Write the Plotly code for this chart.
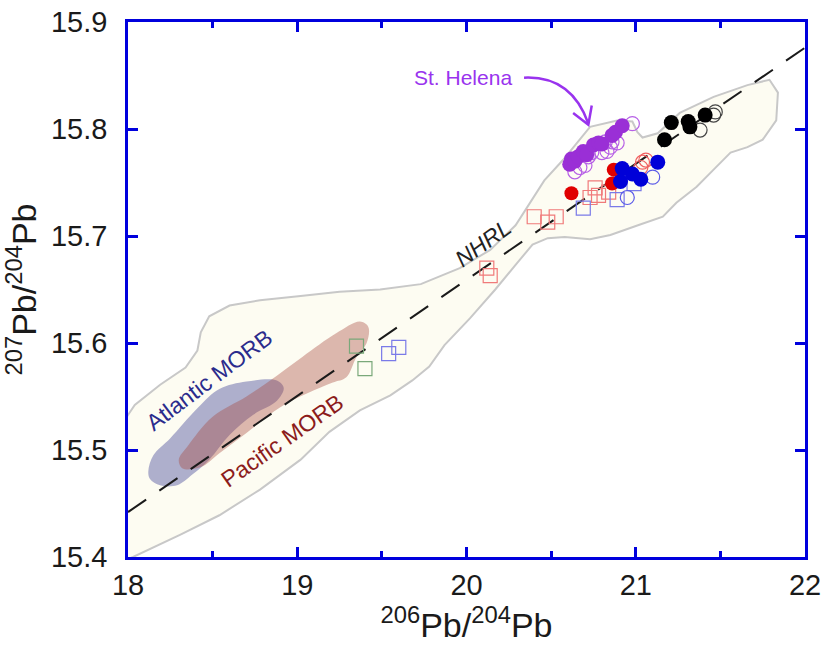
import plotly.graph_objects as go

# ---------------- data ----------------
# St. Helena (purple)
sh_fill_x = [20.62, 20.61, 20.64, 20.66, 20.69, 20.71, 20.75, 20.78, 20.80, 20.86, 20.88, 20.92]
sh_fill_y = [15.772, 15.767, 15.770, 15.774, 15.779, 15.776, 15.785, 15.787, 15.786, 15.794, 15.797, 15.803]
sh_open_x = [20.98, 20.82, 20.85, 20.83, 20.89, 20.80, 20.74, 20.67, 20.64, 20.70, 20.86, 20.72]
sh_open_y = [15.805, 15.788, 15.783, 15.779, 15.787, 15.778, 15.778, 15.764, 15.760, 15.766, 15.788, 15.774]

red_fill_x = [20.62, 20.86, 20.87]
red_fill_y = [15.740, 15.749, 15.762]
red_open_x = [21.04, 21.06, 21.03]
red_open_y = [15.769, 15.771, 15.764]
red_sq_x = [20.76, 20.73, 20.84, 20.78, 20.40, 20.48, 20.53, 20.12, 20.14]
red_sq_y = [15.745, 15.736, 15.741, 15.738, 15.718, 15.713, 15.718, 15.670, 15.663]

blue_fill_x = [20.92, 20.91, 20.98, 21.03, 21.13]
blue_fill_y = [15.763, 15.751, 15.758, 15.753, 15.769]
blue_open_x = [21.10, 20.95]
blue_open_y = [15.755, 15.736]
blue_sq_x = [20.99, 20.89, 20.69, 19.54, 19.60]
blue_sq_y = [15.749, 15.734, 15.726, 15.590, 15.596]

black_fill_x = [21.21, 21.17, 21.31, 21.32, 21.41]
black_fill_y = [15.806, 15.790, 15.807, 15.802, 15.813]
black_open_x = [21.38, 21.46, 21.47]
black_open_y = [15.799, 15.813, 15.816]

green_sq_x = [19.35, 19.40]
green_sq_y = [15.597, 15.576]

# Northern Hemisphere Reference Line end points
nhrl_x = [18.0, 22.0]
nhrl_y = [15.442, 15.876]

# OIB envelope (cream field)
env_x = [17.90, 17.98, 18.04, 18.19, 18.34, 18.41, 18.43, 18.48, 18.60, 18.78, 19.02, 19.25, 19.49, 19.73,
         19.96, 20.14, 20.29, 20.39, 20.46, 20.57, 20.73, 20.89, 20.98, 21.01, 21.04, 21.13, 21.26, 21.46,
         21.66, 21.79, 21.84, 21.83, 21.75, 21.66, 21.56, 21.46, 21.36, 21.24, 21.16, 21.03, 20.85, 20.73,
         20.58, 20.48, 20.39, 20.29, 20.17, 20.02, 19.87, 19.78, 19.68, 19.55, 19.37, 19.19, 19.02, 18.78,
         18.54, 18.31, 18.13, 18.03, 17.95, 17.90]
env_y = [15.528, 15.528, 15.542, 15.561, 15.577, 15.593, 15.610, 15.625, 15.635, 15.640, 15.644, 15.648,
         15.650, 15.655, 15.670, 15.687, 15.710, 15.734, 15.752, 15.771, 15.802, 15.808, 15.807, 15.797,
         15.792, 15.796, 15.815, 15.830, 15.841, 15.846, 15.834, 15.808, 15.790, 15.783, 15.778, 15.762,
         15.746, 15.731, 15.718, 15.711, 15.701, 15.697, 15.699, 15.698, 15.692, 15.673, 15.650, 15.623,
         15.598, 15.578, 15.565, 15.551, 15.537, 15.517, 15.491, 15.463, 15.439, 15.421, 15.407, 15.400,
         15.395, 15.395]

# Atlantic MORB field
atl_x = [18.12, 18.15, 18.25, 18.41, 18.54, 18.70, 18.88, 18.92, 18.88, 18.74, 18.60, 18.48, 18.38,
         18.29, 18.19, 18.13, 18.12]
atl_y = [15.480, 15.495, 15.511, 15.539, 15.557, 15.564, 15.565, 15.558, 15.546, 15.533, 15.514, 15.491,
         15.477, 15.467, 15.467, 15.473, 15.480]

# Pacific MORB field
pac_x = [18.30, 18.35, 18.50, 18.70, 18.84, 19.03, 19.23, 19.37, 19.42, 19.41, 19.35, 19.29, 19.21,
         19.06, 18.90, 18.70, 18.54, 18.43, 18.32, 18.30]
pac_y = [15.491, 15.503, 15.531, 15.550, 15.565, 15.587, 15.609, 15.620, 15.615, 15.600, 15.587, 15.568,
         15.563, 15.553, 15.540, 15.516, 15.497, 15.484, 15.483, 15.491]

# St. Helena arrow (start, control, tip) and head (left arm end, tip, right arm end)
arrow_x = [20.34, 20.62, 20.72]
arrow_y = [15.848, 15.850, 15.805]
head_x = [20.63, 20.72, 20.74]
head_y = [15.815, 15.804, 15.822]

x_ticks = [18, 19, 20, 21, 22]
y_ticks = [15.4, 15.5, 15.6, 15.7, 15.8, 15.9]

# ---------------- figure ----------------
fig = go.Figure()

fig.add_trace(go.Scatter(x=env_x, y=env_y, mode="lines", fill="toself",
                         fillcolor="#fdfcf2", line=dict(color="#c8c8c8", width=2),
                         hoverinfo="skip", showlegend=False))
fig.add_trace(go.Scatter(x=atl_x, y=atl_y, mode="lines", fill="toself",
                         fillcolor="rgba(95,98,165,0.5)", line=dict(width=0, shape="spline"),
                         hoverinfo="skip", showlegend=False))
fig.add_trace(go.Scatter(x=pac_x, y=pac_y, mode="lines", fill="toself",
                         fillcolor="rgba(165,70,60,0.38)", line=dict(width=0, shape="spline"),
                         hoverinfo="skip", showlegend=False))

fig.add_trace(go.Scatter(x=nhrl_x, y=nhrl_y, mode="lines",
                         line=dict(color="#1a1a1a", width=2, dash="22px,16px"),
                         hoverinfo="skip", showlegend=False))

def pts(x, y, symbol, color, size=14, lw=1.2, fill=None):
    m = dict(symbol=symbol, size=size, color=fill if fill else color,
             line=dict(color=color, width=lw))
    fig.add_trace(go.Scatter(x=x, y=y, mode="markers", marker=m, showlegend=False))

pts(red_sq_x, red_sq_y, "square-open", "#f07a7a", size=14)
pts(blue_sq_x, blue_sq_y, "square-open", "#7a7ae8", size=14)
pts(green_sq_x, green_sq_y, "square-open", "#7aa87a", size=14)
pts(sh_open_x, sh_open_y, "circle-open", "#b760e6", size=14)
pts(sh_fill_x, sh_fill_y, "circle", "#9a2fd6", size=15, lw=0)
pts(red_open_x, red_open_y, "circle-open", "#f06060", size=14)
pts(red_fill_x, red_fill_y, "circle", "#e00000", size=14, lw=0)
pts(blue_open_x, blue_open_y, "circle-open", "#5a5ae8", size=14)
pts(blue_fill_x, blue_fill_y, "circle", "#0000d8", size=15, lw=0)
pts(black_open_x, black_open_y, "circle-open", "#444444", size=14)
pts(black_fill_x, black_fill_y, "circle", "#000000", size=15, lw=0)

# curved arrow for St. Helena
fig.add_shape(type="path", xref="x", yref="y",
              path=f"M {arrow_x[0]},{arrow_y[0]} Q {arrow_x[1]},{arrow_y[1]} {arrow_x[2]},{arrow_y[2]}",
              line=dict(color="#9933ee", width=2.5))
fig.add_shape(type="path", xref="x", yref="y",
              path=f"M {head_x[0]},{head_y[0]} L {head_x[1]},{head_y[1]} L {head_x[2]},{head_y[2]}",
              line=dict(color="#9933ee", width=2.5))

fig.add_annotation(x=19.98, y=15.848, text="St. Helena", showarrow=False,
                   font=dict(family="Liberation Sans", size=21, color="#9933ee"))
fig.add_annotation(x=18.48, y=15.565, text="Atlantic MORB", showarrow=False, textangle=-37,
                   font=dict(family="Liberation Sans", size=23, color="#2b2b8c"))
fig.add_annotation(x=18.91, y=15.508, text="Pacific MORB", showarrow=False, textangle=-35,
                   font=dict(family="Liberation Sans", size=23, color="#8c1c1c"))
fig.add_annotation(x=20.10, y=15.693, text="<i>NHRL</i>", showarrow=False, textangle=-36,
                   font=dict(family="Liberation Sans", size=23, color="#222222"))

axis_common = dict(showline=True, linecolor="#0000dd", linewidth=2.5, mirror="ticks",
                   ticks="inside", tickcolor="#0000dd", tickwidth=2.5, ticklen=10,
                   showgrid=False, zeroline=False, automargin=False,
                   tickfont=dict(family="Liberation Sans", size=29, color="#1a1a1a"))

fig.update_xaxes(range=[18, 22], tickvals=x_ticks, ticktext=[str(v) for v in x_ticks],
                 minor=dict(ticks="inside", dtick=0.5, tick0=18, ticklen=6, tickcolor="#0000dd",
                            tickwidth=2.5, showgrid=False),
                 title=dict(text="<sup>206</sup>Pb/<sup>204</sup>Pb", standoff=12,
                            font=dict(family="Liberation Sans", size=34, color="#1a1a1a")),
                 **axis_common)
fig.update_yaxes(range=[15.4, 15.9], tickvals=y_ticks, ticktext=[f"{v:.1f}" for v in y_ticks],
                 ticklabelstandoff=12,
                 title=dict(text="<sup>207</sup>Pb/<sup>204</sup>Pb", standoff=8,
                            font=dict(family="Liberation Sans", size=34, color="#1a1a1a")),
                 **axis_common)

fig.update_layout(width=823, height=646, margin=dict(l=128, r=18, t=22, b=89),
                  paper_bgcolor="white", plot_bgcolor="white", showlegend=False)

fig.write_html("out.html")
